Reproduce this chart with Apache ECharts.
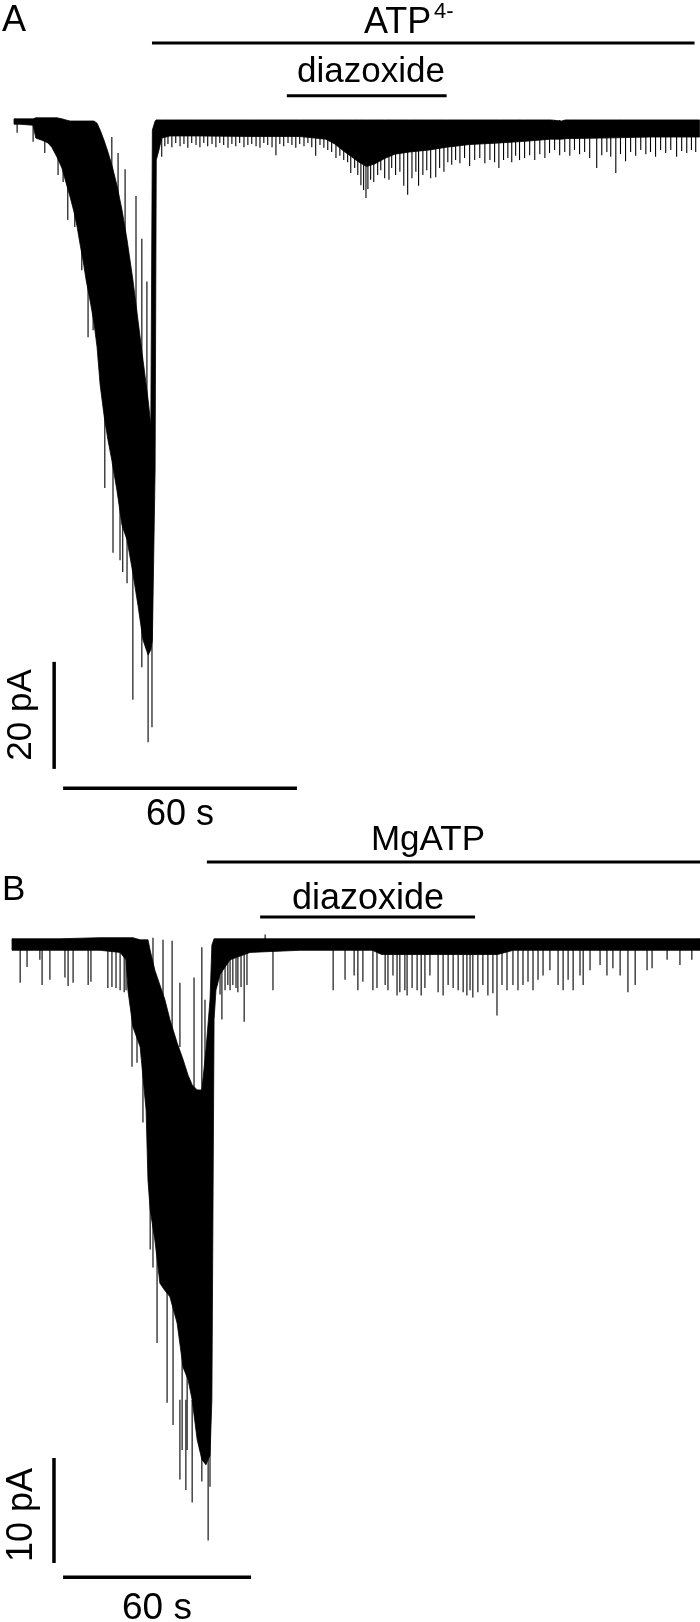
<!DOCTYPE html>
<html>
<head>
<meta charset="utf-8">
<script src="https://cdn.jsdelivr.net/npm/echarts@6/dist/echarts.min.js"></script>
<style>
  html, body { margin: 0; padding: 0; background: #fff; }
  #chart { width: 700px; height: 1622px; }
</style>
</head>
<body>
<div id="chart"></div>
<script>
// ---- panel A: ATP4- (time in s, current in pA, 0 = closed-channel baseline)
// dense part of the trace: [time, upper edge, lower edge]
const bodyA = [
  [0, 0.4, -0.6], [1.5, 0.4, -0.6], [4.9, 0.4, -0.8], [5.6, 0.6, -3.2], [7.2, 0.6, -3.6],
  [8.7, 0.6, -4.1], [9.7, 0.6, -4.9], [11.0, 0.6, -6.7], [12.3, 0.4, -8.8], [13.3, 0.2, -11.4],
  [14.4, 0, -14.2], [15.4, 0, -17.0], [16.2, 0, -19.8], [16.9, 0, -22.8], [17.7, 0, -26.0],
  [18.5, 0, -29.7], [19.5, 0, -33.5], [20.5, 0, -37.6], [21.3, -0.4, -42.2], [22.1, -1.7, -49.3],
  [23.1, -3.6, -55.0], [24.1, -5.8, -59.6], [25.1, -8.2, -63.4], [26.4, -12.0, -69.0], [27.7, -16.6, -75.5],
  [29.0, -22.2, -78.3], [30.5, -29.7, -84.5], [31.8, -37.2, -90.5], [33.1, -44.7, -97.0], [34.4, -52.1, -99.8],
  [35.1, -56.8, -98.9], [35.5, -1.7, -97.0], [36.2, 0, -65.2], [36.5, 0.2, -7.3], [37.2, 0.2, -5.4],
  [37.9, 0.2, -3.2], [40.0, 0.2, -2.8], [47.7, 0.2, -2.8], [60.5, 0.2, -2.9], [73.3, 0.2, -2.9],
  [80.0, 0.2, -3.4], [82.3, 0.2, -4.3], [84.9, 0.2, -5.8], [87.2, 0.2, -7.0], [88.7, 0.2, -7.8],
  [90.5, 0.2, -8.5], [92.6, 0.2, -8.0], [95.1, 0.2, -7.0], [97.7, 0.2, -6.2], [101.5, 0.2, -5.8],
  [106.7, 0.2, -5.4], [111.0, 0.2, -4.9], [116.9, 0.2, -4.4], [124.6, 0.2, -4.1], [131.0, 0.2, -3.8],
  [137.7, 0.2, -3.4], [140.5, 0, -3.4], [141.5, 0.2, -3.3], [150.3, 0.2, -3.2], [163.1, 0.2, -3.0],
  [175.9, 0.2, -3.0]
];
// single openings / closures: [time, from, to]
const spikesA = [
  [0.8, 0.2, -2.2], [4.9, 0.2, -3.9], [7.9, 0.2, -6.0], [11.3, 0.2, -10.1], [12.6, 0.2, -11.4],
  [13.8, -3.6, -18.5], [15.6, -5.4, -19.8], [17.4, -11.0, -27.9], [19.0, -18.5, -40.4], [20.3, -18.5, -39.1],
  [23.3, -33.5, -68.6], [25.4, -52.1, -80.7], [27.2, -61.5, -82.1], [27.9, -61.5, -84.3], [29.0, -67.1, -86.4],
  [30.5, -70.8, -108.2], [32.8, -80.2, -102.1], [34.1, -80.2, -93.8], [34.4, -80.2, -116.1], [35.4, -70.8, -113.3],
  [25.1, -3.0, -12.0], [26.7, -6.0, -18.0], [28.5, -9.0, -26.0], [31.3, -14.0, -38.0], [32.8, -22.0, -46.0],
  [34.1, -30.0, -54.0], [37.9, 0.2, -6.7],
  [38.7, 0.2, -4.7], [39.5, 0.2, -4.3], [40.5, 0.2, -4.9], [41.5, 0.2, -4.1], [42.6, 0.2, -4.7],
  [43.6, 0.2, -4.3], [44.6, 0.2, -5.0], [45.6, 0.2, -4.1], [46.7, 0.2, -4.5], [47.7, 0.2, -4.9],
  [48.7, 0.2, -4.1], [49.7, 0.2, -4.7], [50.8, 0.2, -4.3], [51.8, 0.2, -4.9], [52.8, 0.2, -4.1],
  [53.8, 0.2, -4.5], [54.9, 0.2, -5.0], [55.9, 0.2, -4.3], [56.9, 0.2, -4.7], [57.9, 0.2, -4.1],
  [59.0, 0.2, -4.9], [60.0, 0.2, -4.5], [61.0, 0.2, -4.3], [62.1, 0.2, -4.7], [63.1, 0.2, -5.0],
  [64.1, 0.2, -4.1], [65.1, 0.2, -4.5], [66.2, 0.2, -4.9], [67.2, 0.2, -6.4], [68.2, 0.2, -4.3],
  [69.2, 0.2, -4.7], [70.3, 0.2, -4.1], [71.3, 0.2, -4.5], [72.3, 0.2, -5.0], [73.3, 0.2, -4.3],
  [74.4, 0.2, -4.7], [75.4, 0.2, -4.1], [76.4, 0.2, -4.9], [77.4, 0.2, -6.5], [78.5, 0.2, -4.5],
  [79.5, 0.2, -5.0], [80.5, 0.2, -5.4], [81.5, 0.2, -5.8], [82.6, 0.2, -6.9], [83.6, 0.2, -6.5],
  [84.6, 0.2, -7.3], [85.6, 0.2, -7.7], [86.4, 0.2, -9.7], [87.4, 0.2, -8.8], [88.2, 0.2, -10.1],
  [89.0, 0.2, -12.0], [89.7, 0.2, -12.9], [90.3, 0.2, -14.4], [90.8, 0.2, -12.7], [91.5, 0.2, -11.0],
  [92.3, 0.2, -11.4], [93.3, 0.2, -10.1], [94.1, 0.2, -9.2], [95.1, 0.2, -10.7], [96.2, 0.2, -11.0],
  [96.9, 0.2, -8.8], [97.9, 0.2, -10.1], [99.0, 0.2, -9.5], [100.0, 0.2, -12.1], [101.0, 0.2, -13.8],
  [102.1, 0.2, -10.7], [103.1, 0.2, -9.5], [103.8, 0.2, -12.1], [104.9, 0.2, -10.1], [105.9, 0.2, -9.2],
  [106.9, 0.2, -10.7], [108.2, 0.2, -10.5], [109.2, 0.2, -8.8], [110.3, 0.2, -9.5], [111.3, 0.2, -7.7],
  [112.3, 0.2, -8.2], [113.3, 0.2, -7.3], [114.4, 0.2, -7.9], [115.6, 0.2, -6.9], [116.9, 0.2, -8.4],
  [118.2, 0.2, -7.3], [119.5, 0.2, -6.9], [120.8, 0.2, -7.9], [122.1, 0.2, -7.3], [123.3, 0.2, -7.7],
  [124.4, 0.2, -8.8], [125.6, 0.2, -7.3], [126.7, 0.2, -6.9], [127.7, 0.2, -7.7], [128.7, 0.2, -6.5],
  [129.7, 0.2, -7.3], [131.0, 0.2, -6.9], [132.3, 0.2, -6.4], [133.6, 0.2, -7.3], [134.9, 0.2, -6.2],
  [136.2, 0.2, -6.9], [137.4, 0.2, -6.0], [138.7, 0.2, -5.4], [140.0, 0.2, -6.4], [141.3, 0.2, -5.8],
  [142.6, 0.2, -6.5], [143.8, 0.2, -5.4], [145.1, 0.2, -6.2], [146.4, 0.2, -5.8], [147.7, 0.2, -6.9],
  [149.5, 0.2, -8.8], [150.8, 0.2, -6.4], [152.1, 0.2, -5.8], [153.1, 0.2, -6.7], [154.4, 0.2, -9.7],
  [155.6, 0.2, -6.2], [156.9, 0.2, -7.5], [158.2, 0.2, -5.8], [159.5, 0.2, -6.5], [160.8, 0.2, -5.4],
  [162.1, 0.2, -6.2], [163.3, 0.2, -5.8], [164.6, 0.2, -6.7], [165.9, 0.2, -5.4], [167.2, 0.2, -6.0],
  [168.5, 0.2, -5.4], [170.0, 0.2, -6.7], [171.3, 0.2, -5.6], [172.6, 0.2, -6.0], [173.8, 0.2, -5.4],
  [174.9, 0.2, -5.8]
];
const atpPeriodA = [35.4, 174.6];
const diazPeriodA = [70.0, 111.0];
const scaleA_pA = 20;
const scaleA_s = 60;

// ---- panel B: MgATP
const bodyB = [
  [0, 0.5, -0.6], [15.3, 0.5, -0.6], [28.1, 0.6, -0.6], [34.5, 0.6, -0.8], [36.4, 0.6, -1.5],
  [37.0, 0.6, -4.4], [38.6, 0.6, -7.9], [40.9, 0.4, -9.8], [42.8, 0.4, -15.8], [43.4, 0.4, -22.5],
  [44.1, -0.6, -25.3], [45.6, -2.5, -28.2], [47.2, -3.9, -32.3], [48.8, -5.3, -33.0], [50.4, -7.2, -33.6],
  [52.7, -9.4, -36.1], [54.6, -11.0, -40.3], [56.2, -12.5, -41.5], [57.5, -13.4, -43.4], [59.1, -13.9, -47.2],
  [60.6, -13.9, -49.1], [61.9, -10.1, -49.6], [63.2, -5.3, -48.7], [63.8, -0.1, -43.4], [64.5, 0.5, -7.2],
  [65.1, 0.5, -4.4], [66.4, 0.5, -2.9], [69.6, 0.5, -1.5], [76.0, 0.5, -0.8], [91.9, 0.5, -0.6],
  [115.0, 0.5, -0.6], [118.0, 0.5, -1.0], [155.0, 0.5, -1.0], [160.0, 0.5, -0.6], [219.6, 0.5, -0.6]
];
const spikesB = [
  [2.6, 0.3, -3.7], [4.8, 0.3, -2.2], [8.9, 0.3, -1.5], [9.6, 0.3, -3.9], [12.1, 0.3, -3.4],
  [16.9, 0.3, -3.2], [17.9, 0.3, -4.0], [19.5, 0.3, -3.7], [24.3, 0.3, -3.9], [25.2, 0.3, -3.6],
  [30.6, 0.3, -4.2], [31.9, 0.3, -4.1], [33.2, 0.3, -4.2], [34.5, 0.3, -4.4], [35.8, 0.3, -4.6],
  [36.4, 0.3, -4.4],
  [38.3, -4.4, -11.7], [39.9, -5.3, -11.3], [41.8, -10.1, -17.0], [44.1, -19.6, -29.1], [45.0, -21.5, -30.8],
  [46.3, -24.4, -38.0], [49.5, -32.0, -43.7], [51.4, -33.9, -45.8], [54.3, -38.7, -48.2], [55.9, -40.6, -48.2],
  [53.6, -43.4, -51.0], [55.5, -43.4, -52.0], [57.5, -43.4, -53.2], [60.0, -45.3, -48.2], [60.6, -45.3, -51.2],
  [62.6, -45.3, -56.8], [63.2, -45.3, -51.7],
  [45.0, 0.6, -3.4], [48.2, 0.4, -6.0], [51.1, 0.3, -8.2], [53.6, -3.7, -9.8], [58.1, -3.2, -13.6],
  [60.6, -0.3, -16.1], [61.6, -5.3, -16.1],
  [65.4, 0.3, -3.9], [66.4, 0.3, -4.8], [67.0, 0.3, -7.2], [68.0, 0.3, -4.4], [68.9, 0.3, -3.9],
  [69.6, 0.3, -4.4], [70.5, 0.3, -3.9], [71.5, 0.3, -4.2], [72.1, 0.3, -4.6], [73.1, 0.3, -4.1],
  [74.1, 0.3, -7.4], [75.0, 0.3, -3.9], [80.8, 0.9, -0.3], [83.3, 0.3, -4.4], [102.5, 0.3, -4.4],
  [106.3, 0.3, -3.4], [109.2, 0.3, -3.0], [110.4, 0.3, -4.4], [112.0, 0.3, -3.6], [115.2, 0.3, -4.4],
  [116.5, 0.3, -4.2], [119.1, 0.3, -3.9], [120.0, 0.3, -4.4], [121.6, 0.3, -3.0], [122.9, 0.3, -4.9],
  [123.8, 0.3, -4.6], [125.4, 0.3, -4.4], [126.1, 0.3, -4.9], [127.7, 0.3, -4.2], [129.3, 0.3, -4.4],
  [130.6, 0.3, -4.9], [131.8, 0.3, -4.2], [133.4, 0.3, -3.0], [136.0, 0.3, -4.6], [137.6, 0.3, -4.9],
  [139.2, 0.3, -3.9], [140.8, 0.3, -4.2], [142.4, 0.3, -4.4], [144.0, 0.3, -4.6], [145.2, 0.3, -4.9],
  [146.2, 0.3, -4.4], [147.1, 0.3, -5.1], [148.7, 0.3, -4.6], [150.3, 0.3, -3.9], [151.9, 0.3, -4.9],
  [153.5, 0.3, -4.7], [154.8, 0.3, -6.8], [156.4, 0.3, -3.9], [158.0, 0.3, -4.4], [159.9, 0.3, -3.9],
  [161.5, 0.3, -4.4], [163.1, 0.3, -3.9], [164.7, 0.3, -3.6], [166.3, 0.3, -4.4], [167.9, 0.3, -3.4],
  [169.5, 0.3, -3.0], [171.7, 0.3, -2.5], [174.3, 0.3, -3.9], [175.9, 0.3, -4.4], [177.5, 0.3, -3.4],
  [179.1, 0.3, -4.4], [181.3, 0.3, -3.0], [182.3, 0.3, -3.9], [184.5, 0.3, -2.5], [187.7, 0.3, -2.0],
  [189.9, 0.3, -3.0], [191.8, 0.3, -2.3], [194.1, 0.3, -3.0], [196.6, 0.3, -4.6], [198.9, 0.3, -3.9],
  [202.7, 0.3, -2.5], [204.3, 0.3, -2.3], [209.1, 0.3, -1.5], [213.2, 0.3, -2.0], [217.0, 0.3, -1.5]
];
const mgatpPeriodB = [62.2, 219.6];
const diazPeriodB = [79.2, 147.8];
const scaleB_pA = 10;
const scaleB_s = 60;

const FONT = "'Liberation Sans', Arial, Helvetica, sans-serif";

// filled envelope of the dense trace, one polygon per panel
function bodySeries(idx, data) {
  return {
    type: 'custom', xAxisIndex: idx, yAxisIndex: idx, data: data, clip: false, silent: true,
    renderItem: function (params, api) {
      if (params.dataIndex !== 0) return null;
      const upper = data.map(d => api.coord([d[0], d[1]]));
      const lower = data.map(d => api.coord([d[0], d[2]])).reverse();
      return {
        type: 'polygon',
        shape: { points: upper.concat(lower) },
        style: { fill: '#000', stroke: '#000', lineWidth: 0.8 }
      };
    }
  };
}

function spikeSeries(idx, data) {
  return {
    type: 'custom', xAxisIndex: idx, yAxisIndex: idx, data: data, clip: false, silent: true,
    renderItem: function (params, api) {
      const a = api.coord([api.value(0), api.value(1)]);
      const b = api.coord([api.value(0), api.value(2)]);
      return {
        type: 'line',
        shape: { x1: a[0], y1: a[1], x2: b[0], y2: b[1] },
        style: { stroke: '#000', lineWidth: 1.1 }
      };
    }
  };
}

function barSeries(idx, pts, w) {
  return {
    type: 'line', xAxisIndex: idx, yAxisIndex: idx, data: pts, symbol: 'none', silent: true,
    clip: false, lineStyle: { color: '#000', width: w || 3 }
  };
}

function label(text, x, y, size, align, rotation) {
  return {
    type: 'text', x: x, y: y, silent: true, rotation: rotation || 0,
    style: { text: text, font: size + 'px ' + FONT, fill: '#000', align: align || 'left', verticalAlign: 'middle' }
  };
}

const chart = echarts.init(document.getElementById('chart'), null, { renderer: 'canvas' });

chart.setOption({
  animation: false,
  backgroundColor: '#fff',
  grid: [
    { left: 14, top: 14, width: 686, height: 829.25 },
    { left: 12, top: 839, width: 688, height: 777 }
  ],
  xAxis: [
    { type: 'value', gridIndex: 0, min: 0, max: 176, show: false },
    { type: 'value', gridIndex: 1, min: 0, max: 219.6, show: false }
  ],
  yAxis: [
    { type: 'value', gridIndex: 0, min: -135, max: 20, show: false },
    { type: 'value', gridIndex: 1, min: -64, max: 10, show: false }
  ],
  series: [
    bodySeries(0, bodyA),
    spikeSeries(0, spikesA),
    barSeries(0, [[atpPeriodA[0], 14.6], [atpPeriodA[1], 14.6]]),
    barSeries(0, [[diazPeriodA[0], 4.7], [diazPeriodA[1], 4.7]]),
    barSeries(0, [[10.3, -101.1], [10.3, -101.1 - scaleA_pA]], 3.5),
    barSeries(0, [[12.6, -124.7], [12.6 + scaleA_s, -124.7]], 3.5),

    bodySeries(1, bodyB),
    spikeSeries(1, spikesB),
    barSeries(1, [[mgatpPeriodB[0], 7.8], [mgatpPeriodB[1], 7.8]]),
    barSeries(1, [[diazPeriodB[0], 2.57], [diazPeriodB[1], 2.57]]),
    barSeries(1, [[13.4, -48.95], [13.4, -48.95 - scaleB_pA]], 3.5),
    barSeries(1, [[16.3, -60.3], [16.3 + scaleB_s, -60.3]], 3.5)
  ],
  graphic: [
    label('A', 2, 21, 36),
    label('ATP', 364, 23, 36),
    label('4-', 434, 12, 22),
    label('diazoxide', 371, 72, 35, 'center'),
    label(scaleA_pA + ' pA', 21, 715, 35, 'center', Math.PI / 2),
    label(scaleA_s + ' s', 180, 815, 36, 'center'),

    label('MgATP', 428, 840, 35, 'center'),
    label('B', 2, 890, 35),
    label('diazoxide', 368, 899, 36, 'center'),
    label(scaleB_pA + ' pA', 22, 1515, 36, 'center', Math.PI / 2),
    label(scaleB_s + ' s', 157, 1609, 37, 'center')
  ]
});
</script>
</body>
</html>
